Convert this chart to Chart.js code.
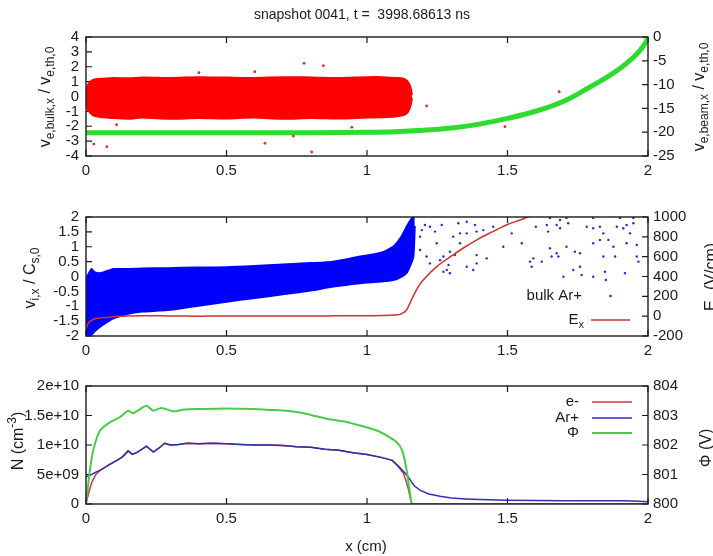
<!DOCTYPE html>
<html>
<head>
<meta charset="utf-8">
<script src="https://cdn.jsdelivr.net/npm/chart.js@4.4.1/dist/chart.umd.min.js"></script>
<style>
body { margin: 0; background: #fff; width: 713px; height: 556px; overflow: hidden; position: relative; }
canvas { position: absolute; left: 0; }
</style>
</head>
<body>
<canvas id="c1" width="713" height="185" style="top:0px"></canvas>
<canvas id="c2" width="713" height="180" style="top:185px"></canvas>
<canvas id="c3" width="713" height="191" style="top:365px"></canvas>
<script>
// ---- panel 1: electron velocities ----
const eCloudX      = [0, 0.005, 0.015, 0.03, 0.06, 0.1, 0.15, 0.2, 0.3, 0.4, 0.5, 0.6, 0.7, 0.8, 0.9, 1.0, 1.05, 1.1, 1.13, 1.145, 1.155, 1.16]
const eCloudTop    = [0.1, 0.7, 1.0, 1.15, 1.2, 1.25, 1.22, 1.28, 1.25, 1.3, 1.27, 1.25, 1.3, 1.28, 1.25, 1.3, 1.3, 1.25, 1.2, 1.0, 0.6, 0.1]
const eCloudBottom = [-0.1, -0.8, -1.1, -1.3, -1.4, -1.45, -1.5, -1.42, -1.5, -1.45, -1.48, -1.42, -1.5, -1.45, -1.48, -1.42, -1.4, -1.35, -1.25, -1.05, -0.6, -0.1]
const eStrayX = [0.402, 0.601, 0.776, 0.845, 0.028, 0.074, 0.109, 0.637, 0.738, 0.803, 0.946, 1.212, 1.684, 1.491]
const eStrayV = [1.6, 1.67, 2.23, 2.07, -3.2, -3.37, -1.9, -3.15, -2.66, -3.73, -2.07, -0.64, 0.32, -2.03]
const beamX = [0, 0.2, 0.4, 0.6, 0.8, 1.0, 1.1, 1.2, 1.3, 1.4, 1.5, 1.6, 1.7, 1.8, 1.85, 1.9, 1.94, 1.97, 1.99, 2.0]
const beamV = [-20.1, -20.1, -20.1, -20.1, -20.1, -20.0, -19.9, -19.6, -19.1, -18.3, -17.1, -15.6, -13.5, -10.3, -8.6, -6.6, -4.7, -2.9, -1.3, 0]

// ---- panel 2: ion velocities and field ----
const ionCloudX      = [0, 0.005, 0.01, 0.02, 0.03, 0.05, 0.08, 0.1, 0.15, 0.2, 0.29, 0.4, 0.5, 0.6, 0.7, 0.8, 0.88, 0.975, 1.05, 1.093, 1.12, 1.141, 1.155, 1.165, 1.17]
const ionCloudTop    = [-0.3, 0.0, 0.1, 0.25, 0.15, 0.11, 0.2, 0.25, 0.25, 0.27, 0.28, 0.3, 0.31, 0.35, 0.4, 0.45, 0.5, 0.67, 0.8, 1.0, 1.3, 1.67, 1.9, 2.0, 2.0]
const ionCloudBottom = [-2.0, -2.0, -2.0, -1.95, -1.85, -1.69, -1.5, -1.4, -1.25, -1.18, -1.13, -0.98, -0.85, -0.72, -0.6, -0.47, -0.34, -0.23, -0.17, -0.12, -0.02, 0.12, 0.4, 0.67, 1.7]
const ionStrayX = [1.206, 1.224, 1.266, 1.242, 1.325, 1.355, 1.384, 1.414, 1.449, 1.331, 1.355, 1.39, 1.307, 1.248, 1.331, 1.295, 1.272, 1.26, 1.29, 1.313,
  1.39, 1.426, 1.39, 1.284, 1.272, 1.295, 1.485, 1.515, 1.551, 1.586, 1.592, 1.601, 1.64, 1.645, 1.687, 1.716, 1.687, 1.651, 1.657, 1.71,
  1.74, 1.758, 1.782, 1.805, 1.829, 1.841, 1.859, 1.877, 1.889, 1.912, 1.924, 1.936, 1.948, 1.829, 1.805, 1.841, 1.883, 1.924, 1.96, 1.96,
  1.966, 1.758, 1.734, 1.699, 1.764, 1.805, 1.85, 1.847, 1.918, 1.681, 1.675, 1.58, 1.622, 1.355, 1.378, 1.224, 1.212, 1.189, 1.189, 1.195,
  1.71, 1.651, 1.675, 1.805, 1.9, 1.948]
const ionStrayV = [1.73, 1.67, 1.73, 1.51, 1.79, 1.84, 1.73, 1.56, 1.67, 1.45, 1.45, 1.51, 1.34, 1.12, 1.12, 0.83, 0.67, 0.55, 0.39, 0.72,
  0.72, 0.61, 0.44, 0.22, 0.16, 0.11, 1.0, 1.45, 1.12, 0.33, 0.61, 1.67, 1.73, 1.51, 1.9, 1.79, 1.62, 0.95, 0.67, 1.0,
  0.83, 0.78, 1.67, 1.62, 1.67, 1.45, 1.23, 1.0, 1.67, 1.62, 1.73, 1.45, 1.79, 1.23, 1.12, 0.67, 0.67, 1.12, 1.06, 0.67,
  0.5, 0.33, 0.22, -0.01, 0.05, -0.01, -0.12, 0.16, 0.11, 0.67, 0.78, 0.5, 0.5, 0.33, 0.22, 0.44, 0.67, 0.89, 1.34, 1.56,
  1.97, 1.97, 1.73, 1.97, 1.97, 1.97]
const exX = [0, 0.01, 0.03, 0.05, 0.08, 0.1, 0.2, 0.3, 0.4, 0.5, 0.6, 0.7, 0.8, 0.9, 1.0, 1.05, 1.1, 1.12, 1.14, 1.16, 1.18, 1.2, 1.25, 1.3, 1.35, 1.4, 1.45, 1.5, 1.55, 1.6]
const exV = [-125, -65, -29, -18, -11, -4, 5, 2, 0, 2, 1, 1, 2, 3, 4, 7, 12, 20, 60, 175, 285, 365, 505, 605, 700, 785, 855, 925, 975, 1030]

// ---- panel 3: densities and potential ----
const densX  = [0, 0.01, 0.02, 0.035, 0.05, 0.08, 0.11, 0.13, 0.15, 0.165, 0.18, 0.2, 0.215, 0.24, 0.26, 0.28, 0.3, 0.33, 0.36, 0.4, 0.45, 0.5, 0.55, 0.6, 0.65, 0.7,
  0.75, 0.8, 0.85, 0.9, 0.95, 1.0, 1.05, 1.09, 1.11, 1.13, 1.145, 1.155, 1.16, 1.17, 1.19, 1.22, 1.26, 1.3, 1.35, 1.4, 1.5, 1.6, 1.7, 1.8, 1.9, 1.95, 2.0]
const densAr = [0.46, 0.48, 0.5, 0.54, 0.57, 0.66, 0.74, 0.8, 0.9, 0.84, 0.87, 0.93, 0.98, 0.88, 0.95, 1.03, 1.0, 1.01, 1.03, 1.02, 1.03, 1.02, 1.01, 1.0, 1.0, 0.99,
  0.97, 0.96, 0.93, 0.91, 0.87, 0.84, 0.79, 0.74, 0.65, 0.55, 0.47, 0.4, 0.36, 0.3, 0.23, 0.17, 0.13, 0.1, 0.085, 0.075, 0.065, 0.058, 0.055, 0.055, 0.055, 0.05, 0.04]
const densE  = [0, 0.2, 0.36, 0.5, 0.57, 0.66, 0.74, 0.8, 0.9, 0.84, 0.87, 0.93, 0.98, 0.88, 0.95, 1.03, 1.0, 1.01, 1.03, 1.02, 1.03, 1.02, 1.01, 1.0, 1.0, 0.99,
  0.97, 0.96, 0.93, 0.91, 0.87, 0.84, 0.79, 0.74, 0.64, 0.52, 0.3, 0.08, 0, 0, 0, 0, 0, 0, 0, 0, 0, 0, 0, 0, 0, 0, 0]
const phiX = [0, 0.007, 0.014, 0.022, 0.032, 0.05, 0.085, 0.12, 0.15, 0.168, 0.19, 0.215, 0.24, 0.265, 0.29, 0.31, 0.35, 0.4, 0.5, 0.6, 0.65, 0.7, 0.76, 0.8,
  0.86, 0.92, 0.975, 1.035, 1.07, 1.105, 1.125, 1.14, 1.153, 1.16, 1.165]
const phiV = [800.0, 800.6, 801.14, 801.65, 802.04, 802.49, 802.77, 802.94, 803.16, 803.08, 803.2, 803.33, 803.16, 803.25, 803.2, 803.14, 803.2, 803.22, 803.24,
  803.22, 803.19, 803.17, 803.1, 803.02, 802.88, 802.8, 802.66, 802.49, 802.32, 802.1, 801.82, 801.2, 800.36, 799.9, 799.6]

const FONT = "'Liberation Sans', Arial, sans-serif"
const INK = '#1a1a1a'

function pts(xs, ys, k = 1) {
    return xs.map((x, i) => ({ x: x, y: ys[i] * k }))
}

// text with sub/superscripts: parts = [[text, 0 normal | 1 sub | 2 sup], ...]
function richWidth(ctx, parts, size) {
    let w = 0
    parts.forEach(p => {
        ctx.font = (p[1] ? Math.round(size * 0.75) : size) + 'px ' + FONT
        w += ctx.measureText(p[0]).width
    })
    return w
}

function drawRich(ctx, parts, x, y, size, rot, align) {
    ctx.save()
    ctx.translate(x, y)
    if (rot) ctx.rotate(rot)
    const w = richWidth(ctx, parts, size)
    let cx = align === 'right' ? -w : -w / 2
    ctx.fillStyle = INK
    ctx.textBaseline = 'middle'
    ctx.textAlign = 'left'
    parts.forEach(p => {
        ctx.font = (p[1] ? Math.round(size * 0.75) : size) + 'px ' + FONT
        const dy = p[1] === 1 ? size * 0.3 : p[1] === 2 ? -size * 0.4 : 0
        ctx.fillText(p[0], cx, dy)
        cx += ctx.measureText(p[0]).width
    })
    ctx.restore()
}

const gnuFrame = {
    id: 'gnuFrame',
    beforeDatasetsDraw(chart) {
        const { ctx, chartArea: a, scales } = chart
        const t = 6
        ctx.save()
        ctx.strokeStyle = INK
        ctx.lineWidth = 1.2
        ctx.beginPath()
        scales.x.ticks.forEach(tk => {
            const px = scales.x.getPixelForValue(tk.value)
            ctx.moveTo(px, a.bottom); ctx.lineTo(px, a.bottom - t)
            ctx.moveTo(px, a.top); ctx.lineTo(px, a.top + t)
        })
        scales.y.ticks.forEach(tk => {
            const py = scales.y.getPixelForValue(tk.value)
            ctx.moveTo(a.left, py); ctx.lineTo(a.left + t, py)
        })
        scales.y2.ticks.forEach(tk => {
            const py = scales.y2.getPixelForValue(tk.value)
            ctx.moveTo(a.right, py); ctx.lineTo(a.right - t, py)
        })
        ctx.stroke()
        ctx.restore()
    },
    afterDraw(chart, args, opts) {
        const { ctx, chartArea: a } = chart
        ctx.save()
        ctx.strokeStyle = INK
        ctx.lineWidth = 1.4
        ctx.strokeRect(a.left, a.top, a.right - a.left, a.bottom - a.top)
        ctx.restore()
        ;(opts.texts || []).forEach(t => drawRich(ctx, t.parts, t.x, t.y, t.size || 16, t.rot || 0, t.align))
        ;(opts.legend || []).forEach(l => {
            drawRich(ctx, l.parts, l.tx, l.y, 15, 0, 'right')
            const ds = chart.data.datasets[l.ds]
            ctx.save()
            if (l.kind === 'dot') {
                ctx.fillStyle = ds.borderColor
                ctx.beginPath(); ctx.arc((l.x1 + l.x2) / 2, l.y, 1.3, 0, Math.PI * 2); ctx.fill()
            } else {
                ctx.strokeStyle = ds.borderColor
                ctx.lineWidth = ds.borderWidth
                ctx.beginPath(); ctx.moveTo(l.x1, l.y); ctx.lineTo(l.x2, l.y); ctx.stroke()
            }
            ctx.restore()
        })
    }
}

function tickFont() {
    return { family: FONT, size: 15 }
}

function plain(v) {
    return String(Math.round(v * 1000) / 1000)
}

function makeScales(xHeight, y, y2) {
    return {
        x: {
            type: 'linear', min: 0, max: 2,
            grid: { display: false, drawTicks: false, tickLength: 0 },
            border: { display: false },
            ticks: { stepSize: 0.5, padding: 6, color: INK, font: tickFont(), maxRotation: 0, autoSkip: false, callback: plain },
            afterFit: s => { s.height = xHeight }
        },
        y: Object.assign({
            position: 'left',
            grid: { display: false, drawTicks: false, tickLength: 0 },
            border: { display: false },
            afterFit: s => { s.width = 86 }
        }, y),
        y2: Object.assign({
            position: 'right',
            grid: { display: false, drawTicks: false, tickLength: 0 },
            border: { display: false },
            afterFit: s => { s.width = 65 }
        }, y2)
    }
}

function baseOptions(padTop, xHeight, y, y2, deco) {
    return {
        responsive: false,
        animation: false,
        events: [],
        layout: { padding: { top: padTop, bottom: 0, left: 0, right: 0 } },
        plugins: { legend: { display: false }, tooltip: { enabled: false }, gnuFrame: deco },
        scales: makeScales(xHeight, y, y2)
    }
}

function yAxis(min, max, step, pad, cb) {
    return { min: min, max: max, ticks: { stepSize: step, padding: pad, color: INK, font: tickFont(), autoSkip: false, callback: cb || plain } }
}

// panel 1
new Chart(document.getElementById('c1'), {
    type: 'line',
    plugins: [gnuFrame],
    data: {
        datasets: [
            { data: pts(eCloudX, eCloudTop), borderColor: '#ff0000', backgroundColor: '#ff0000', borderWidth: 2, pointRadius: 0, fill: '+1', tension: 0.3, yAxisID: 'y', clip: 0 },
            { data: pts(eCloudX, eCloudBottom), borderColor: '#ff0000', borderWidth: 2, pointRadius: 0, fill: false, tension: 0.3, yAxisID: 'y', clip: 0 },
            { data: pts(eStrayX, eStrayV), borderColor: '#ff2020', backgroundColor: '#ff2020', showLine: false, pointRadius: 1.4, pointBorderWidth: 0, yAxisID: 'y', clip: 0 },
            { data: pts(beamX, beamV), borderColor: '#2edc2e', borderWidth: 5, pointRadius: 0, fill: false, tension: 0.4, yAxisID: 'y2', clip: 0 }
        ]
    },
    options: baseOptions(37, 29,
        yAxis(-4, 4, 1, 7),
        yAxis(-25, 0, 5, 5),
        {
            texts: [
                { parts: [['snapshot 0041, t =  3998.68613 ns', 0]], x: 362, y: 15, size: 14 },
                { parts: [['v', 0], ['e,bulk,x', 1], [' / v', 0], ['e,th,0', 1]], x: 46, y: 97, rot: -Math.PI / 2 },
                { parts: [['v', 0], ['e,beam,x', 1], [' / v', 0], ['e,th,0', 1]], x: 700, y: 97, rot: -Math.PI / 2 }
            ]
        })
})

// panel 2
new Chart(document.getElementById('c2'), {
    type: 'line',
    plugins: [gnuFrame],
    data: {
        datasets: [
            { data: pts(ionCloudX, ionCloudTop), borderColor: '#0000ff', backgroundColor: '#0000ff', borderWidth: 2, pointRadius: 0, fill: '+1', tension: 0.2, yAxisID: 'y', clip: 0, order: 3 },
            { data: pts(ionCloudX, ionCloudBottom), borderColor: '#0000ff', borderWidth: 2, pointRadius: 0, fill: false, tension: 0.2, yAxisID: 'y', clip: 0, order: 3 },
            { data: pts(ionStrayX, ionStrayV), borderColor: '#2a2ad0', backgroundColor: '#2a2ad0', showLine: false, pointRadius: 1.2, pointBorderWidth: 0, yAxisID: 'y', clip: 0, order: 2 },
            { data: pts(exX, exV), borderColor: '#cc3333', borderWidth: 1.5, pointRadius: 0, fill: false, tension: 0.3, yAxisID: 'y2', clip: 0, order: 1 }
        ]
    },
    options: baseOptions(32, 29,
        yAxis(-2, 2, 0.5, 7),
        yAxis(-200, 1000, 200, 5),
        {
            texts: [
                { parts: [['v', 0], ['i,x', 1], [' / C', 0], ['s,0', 1]], x: 31, y: 93, rot: -Math.PI / 2 },
                { parts: [['E', 0], ['x', 1], [' (V/cm)', 0]], x: 712, y: 92, rot: -Math.PI / 2 }
            ],
            legend: [
                { parts: [['bulk Ar+', 0]], tx: 582, y: 111, ds: 2, kind: 'dot', x1: 591, x2: 630 },
                { parts: [['E', 0], ['x', 1]], tx: 584, y: 135, ds: 3, kind: 'line', x1: 591, x2: 630 }
            ]
        })
})

// panel 3
new Chart(document.getElementById('c3'), {
    type: 'line',
    plugins: [gnuFrame],
    data: {
        datasets: [
            { data: pts(densX, densE, 1e10), borderColor: '#cc3344', borderWidth: 1.5, pointRadius: 0, fill: false, yAxisID: 'y', clip: 0, order: 3 },
            { data: pts(densX, densAr, 1e10), borderColor: '#3030b4', borderWidth: 1.5, pointRadius: 0, fill: false, yAxisID: 'y', clip: 0, order: 2 },
            { data: pts(phiX, phiV), borderColor: '#48cc48', borderWidth: 2, pointRadius: 0, fill: false, tension: 0.3, yAxisID: 'y2', clip: 0, order: 1 }
        ]
    },
    options: baseOptions(21, 52,
        yAxis(0, 2e10, 5e9, 7, v => v === 0 ? '0' : v.toExponential().replace('e+9', 'e+09')),
        yAxis(800, 804, 1, 5),
        {
            texts: [
                { parts: [['N (cm', 0], ['-3', 2], [')', 0]], x: 19, y: 76, rot: -Math.PI / 2 },
                { parts: [['\u03a6 (V)', 0]], x: 707, y: 83, rot: -Math.PI / 2 },
                { parts: [['x (cm)', 0]], x: 366, y: 182, size: 15 }
            ],
            legend: [
                { parts: [['e-', 0]], tx: 579, y: 37, ds: 0, kind: 'line', x1: 592, x2: 632 },
                { parts: [['Ar+', 0]], tx: 579, y: 53, ds: 1, kind: 'line', x1: 592, x2: 632 },
                { parts: [['\u03a6', 0]], tx: 579, y: 68, ds: 2, kind: 'line', x1: 592, x2: 632 }
            ]
        })
})
</script>
</body>
</html>
